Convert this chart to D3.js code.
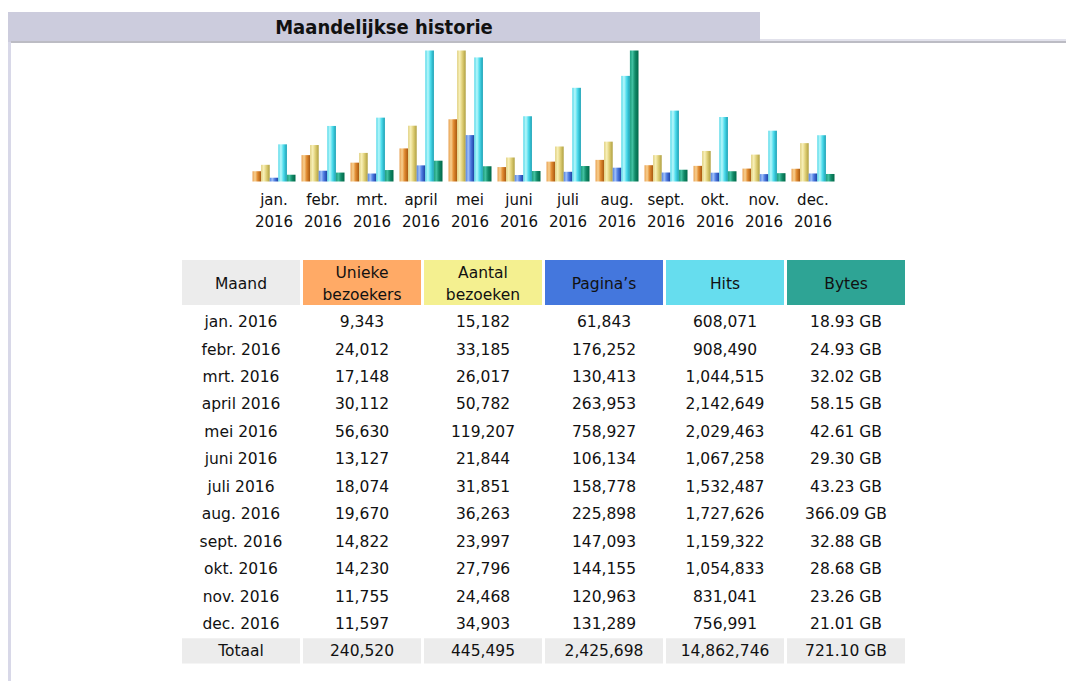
<!DOCTYPE html>
<html>
<head>
<meta charset="utf-8">
<script src="https://cdn.jsdelivr.net/npm/d3@7"></script>
<style>
	body { margin: 0; background: #fff; }
	svg { display: block; }
	text { font-family: "DejaVu Sans", Verdana, sans-serif; fill: #111; }
</style>
</head>
<body>
<svg id="chart" width="1066" height="681"></svg>
<script>
const monthShort = ['jan.', 'febr.', 'mrt.', 'april', 'mei', 'juni', 'juli', 'aug.', 'sept.', 'okt.', 'nov.', 'dec.']
const year = '2016'
const uniqueVisitors = [9343, 24012, 17148, 30112, 56630, 13127, 18074, 19670, 14822, 14230, 11755, 11597]
const visits = [15182, 33185, 26017, 50782, 119207, 21844, 31851, 36263, 23997, 27796, 24468, 34903]
const pages = [61843, 176252, 130413, 263953, 758927, 106134, 158778, 225898, 147093, 144155, 120963, 131289]
const hits = [608071, 908490, 1044515, 2142649, 2029463, 1067258, 1532487, 1727626, 1159322, 1054833, 831041, 756991]
const bytesGB = [18.93, 24.93, 32.02, 58.15, 42.61, 29.30, 43.23, 366.09, 32.88, 28.68, 23.26, 21.01]
const headers = [['Maand'], ['Unieke', 'bezoekers'], ['Aantal', 'bezoeken'], ['Pagina\u2019s'], ['Hits'], ['Bytes']]
const headerColors = ['#ececec', '#ffaa66', '#f4f090', '#4477dd', '#66ddee', '#2ea495']
const totals = ['Totaal', '240,520', '445,495', '2,425,698', '14,862,746', '721.10 GB']

const svg = d3.select('#chart')
const fmt = d3.format(',')

// frame: title tab, rule and left strip
svg.append('rect').attr('x', 8).attr('y', 12).attr('width', 752).attr('height', 30).attr('fill', '#ccccdd')
svg.append('rect').attr('x', 760).attr('y', 39).attr('width', 306).attr('height', 2).attr('fill', '#e2e2ec')
svg.append('rect').attr('x', 11).attr('y', 41).attr('width', 1055).attr('height', 2).attr('fill', '#bcbcc4')
svg.append('rect').attr('x', 8).attr('y', 42).attr('width', 3).attr('height', 639).attr('fill', '#d8d8e8')
svg.append('text')
	.attr('x', 384).attr('y', 34)
	.attr('text-anchor', 'middle')
	.style('font-family', '"DejaVu Sans Condensed", "DejaVu Sans", sans-serif')
	.style('font-stretch', 'condensed')
	.style('font-weight', 'bold')
	.style('font-size', '20px')
	.text('Maandelijkse historie')

// ---- bar chart ----
const series = [
	{ key: 'u', values: uniqueVisitors, stops: ['#e8a050', '#f8d090', '#e08a30', '#a85810'] },
	{ key: 'v', values: visits, stops: ['#e0d080', '#f8f0b8', '#e0d078', '#b0a040'] },
	{ key: 'p', values: pages, stops: ['#5080e0', '#a0c0f8', '#4a78e0', '#1c40a0'] },
	{ key: 'h', values: hits, stops: ['#50d8e8', '#b8f8fc', '#50dcec', '#18a0b4'] },
	{ key: 'k', values: bytesGB, stops: ['#20a080', '#40c0a0', '#128a68', '#006848'] }
]

const defs = svg.append('defs')
series.forEach(s => {
	const g = defs.append('linearGradient').attr('id', 'grad-' + s.key)
		.attr('x1', '0%').attr('x2', '100%').attr('y1', '0%').attr('y2', '0%')
	s.stops.forEach((c, i) => g.append('stop').attr('offset', [0, 0.3, 0.6, 1][i]).attr('stop-color', c))
})

const chartBottom = 181.5, chartHeight = 131
const x = d3.scaleBand().domain(d3.range(12)).range([249.5, 837.5])
const xs = d3.scaleBand().domain(d3.range(5)).range([3, 46])
// AWStats scales visitors/visits together, pages/hits together, bytes alone
const yVisits = d3.scaleLinear().domain([0, d3.max(visits)]).range([0, chartHeight])
const yHits = d3.scaleLinear().domain([0, d3.max(hits)]).range([0, chartHeight])
const yBytes = d3.scaleLinear().domain([0, d3.max(bytesGB)]).range([0, chartHeight])
const yFor = [yVisits, yVisits, yHits, yHits, yBytes]

const groups = svg.append('g').selectAll('g').data(d3.range(12)).join('g')
	.attr('transform', i => `translate(${x(i)},0)`)

series.forEach((s, si) => {
	groups.append('rect')
		.attr('x', xs(si))
		.attr('width', xs.bandwidth())
		.attr('y', i => chartBottom - yFor[si](s.values[i]))
		.attr('height', i => yFor[si](s.values[i]))
		.attr('fill', `url(#grad-${s.key})`)
})

groups.append('text')
	.attr('x', x.bandwidth() / 2).attr('y', 205)
	.attr('text-anchor', 'middle').style('font-size', '15px')
	.text(i => monthShort[i])
groups.append('text')
	.attr('x', x.bandwidth() / 2).attr('y', 227)
	.attr('text-anchor', 'middle').style('font-size', '15px')
	.text(year)

// ---- table ----
const cols = d3.scaleBand().domain(d3.range(6)).range([182, 905]).paddingInner(15 / 605)
const rowKeys = monthShort.map(m => m + ' ' + year).concat(['Totaal'])
const rows = d3.scaleBand().domain(d3.range(13)).range([309, 309 + 13 * 27.27]).paddingInner(0.08)

const head = svg.append('g')
head.selectAll('rect').data(headers).join('rect')
	.attr('x', (d, i) => cols(i)).attr('y', 260)
	.attr('width', cols.bandwidth()).attr('height', 45)
	.attr('fill', (d, i) => headerColors[i])
head.selectAll('text').data(headers).join('text')
	.attr('text-anchor', 'middle').style('font-size', '15.5px')
	.attr('fill', '#1a1a33')
	.each(function(lines, i) {
		const t = d3.select(this)
		const cx = cols(i) + cols.bandwidth() / 2
		lines.forEach((l, li) => {
			t.append('tspan').attr('x', cx)
				.attr('y', 289 + (li - (lines.length - 1) / 2) * 22)
				.text(l)
		})
	})

const tableData = rowKeys.map((m, i) => i < 12
	? [m, fmt(uniqueVisitors[i]), fmt(visits[i]), fmt(pages[i]), fmt(hits[i]), bytesGB[i].toFixed(2) + ' GB']
	: totals)

const body = svg.append('g')
body.selectAll('rect').data(d3.range(6)).join('rect')
	.attr('x', i => cols(i)).attr('y', rows(12))
	.attr('width', cols.bandwidth()).attr('height', rows.bandwidth())
	.attr('fill', '#ececec')

const trs = body.selectAll('g').data(tableData).join('g')
	.attr('transform', (d, i) => `translate(0,${rows(i) + rows.bandwidth() / 2 + 5.5})`)
trs.selectAll('text').data(d => d).join('text')
	.attr('x', (d, i) => cols(i) + cols.bandwidth() / 2)
	.attr('text-anchor', 'middle').style('font-size', '15.5px')
	.text(d => d)
</script>
</body>
</html>
